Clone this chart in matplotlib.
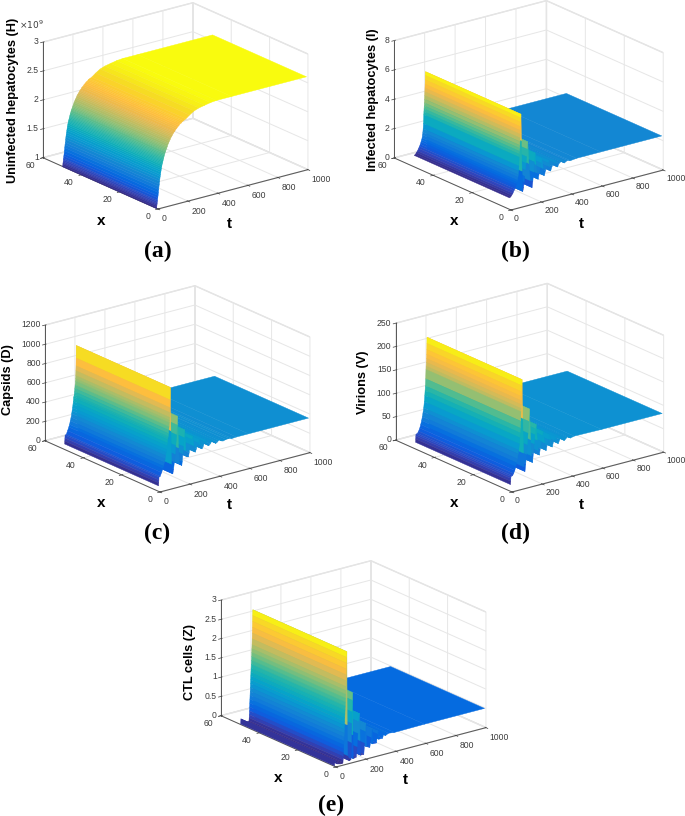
import numpy as np
import matplotlib
matplotlib.use("Agg")
from matplotlib import pyplot as plt
from matplotlib.colors import LinearSegmentedColormap
from mpl_toolkits.mplot3d import proj3d

W = 685
H = 816

plt.rcParams['font.family'] = ['Liberation Sans', 'DejaVu Sans']
plt.rcParams['grid.color'] = '#e6e6e6'
plt.rcParams['grid.linewidth'] = 0.7

x_ends = [1, 50]

t_H = [0, 1, 2, 3, 4, 5, 6, 8, 10, 12, 14, 16, 18, 20, 22, 24, 26, 28, 30, 32, 34, 36, 38, 40, 42, 44, 46, 48, 50, 52, 55, 58, 60, 63, 66, 69, 72, 76, 80, 85, 90, 95,
       100, 105, 110, 115, 120, 127, 135, 142, 150, 157, 165, 172, 180, 195, 220, 250, 282, 320, 360, 400, 500, 1000]
val_H = [1.0, 1.02, 1.05, 1.07, 1.09, 1.12, 1.14, 1.18, 1.22, 1.27, 1.32, 1.37, 1.41, 1.46, 1.5, 1.54, 1.57, 1.61, 1.64, 1.67, 1.7, 1.73, 1.75, 1.77, 1.79, 1.81, 1.83, 1.85, 1.87, 1.89, 1.91, 1.94, 1.95, 1.97, 1.99, 2.01, 2.03, 2.06, 2.08, 2.11, 2.13, 2.16,
         2.18, 2.2, 2.22, 2.24, 2.25, 2.28, 2.3, 2.32, 2.34, 2.36, 2.37, 2.39, 2.4, 2.42, 2.47, 2.52, 2.55, 2.57, 2.59, 2.6, 2.6, 2.6]

t_I = [0, 8, 15, 22, 29, 35, 40, 45, 49, 52, 55, 57, 59, 61, 63, 64, 65, 66, 67, 68, 69, 70, 71, 72, 73, 74, 75,
       78, 82, 87, 92, 96, 100, 104, 108, 112, 116, 120, 127, 136, 148, 153, 158, 163, 168, 174, 181, 188,
       194, 201, 208, 215, 221, 228, 236, 244, 252, 260, 265, 270, 280, 292, 305, 310, 315, 325, 337, 350,
       355, 360, 380, 400, 440, 600, 1000]
val_I = [0.8, 0.85, 0.95, 1.05, 1.2, 1.32, 1.45, 1.6, 1.72, 1.85, 2.05, 2.22, 2.45, 2.8, 3.4, 3.6, 3.8, 4.0, 4.2, 4.45, 4.7, 4.95, 5.2, 5.45, 5.75, 6.05, 6.3,
         4.5, 2.4, 1.0, 1.25, 1.6, 2.0, 2.4, 2.85, 3.3, 3.8, 4.3, 2.8, 1.6, 1.1, 1.5, 2.1, 2.8, 3.4, 2.6, 2.0, 1.56,
         1.9, 2.3, 2.6, 2.9, 2.2, 1.7, 2.0, 2.3, 2.5, 2.65, 2.2, 1.9, 2.2, 2.4, 2.5, 2.25, 2.05, 2.25, 2.35, 2.4,
         2.3, 2.2, 2.32, 2.25, 2.3, 2.3, 2.3]

t_D = [0, 1, 2, 3, 11, 20, 28, 33, 38, 43, 47, 50, 53, 56, 58, 60, 62, 64, 66, 68, 70, 72, 73, 74, 75, 76, 77, 78,
       82, 86, 95, 100, 105, 110, 115, 120, 124, 127, 133, 140, 155, 158, 162, 166, 170, 175, 182, 190, 200,
       204, 212, 220, 228, 235, 245, 252, 262, 272, 280, 290, 297, 307, 316, 325, 335, 345, 355, 362, 372, 382,
       392, 402, 410, 420, 430, 450, 470, 490, 520, 600, 1000]
val_D = [60, 90, 120, 150, 155, 190, 225, 250, 285, 320, 355, 385, 415, 450, 480, 515, 530, 545, 575, 610, 645, 685, 710, 740, 790, 840, 920, 1050,
         600, 250, 146, 190, 260, 340, 430, 540, 640, 730, 400, 230, 209, 250, 320, 400, 490, 570, 350, 285, 280,
         320, 400, 450, 480, 380, 310, 340, 400, 430, 370, 325, 345, 390, 405, 365, 340, 355, 380, 385, 360, 345,
         355, 370, 370, 355, 350, 358, 360, 352, 355, 355, 355]

t_V = [0, 1, 2, 3, 13, 20, 28, 34, 40, 45, 50, 54, 58, 61, 63, 65, 67, 69, 70, 71, 72, 73, 74, 75, 76,
       80, 86, 90, 95, 100, 105, 110, 115, 120, 125, 132, 138, 145, 150, 155, 160, 165, 170, 176, 183, 190,
       196, 203, 210, 215, 225, 235, 241, 248, 255, 265, 275, 285, 295, 305, 315, 325, 335, 345, 355, 375, 395, 420, 600, 1000]
val_V = [15, 22, 28, 32, 33, 37, 43, 50, 58, 66, 76, 84, 97, 110, 120, 130, 145, 165, 172, 180, 188, 197, 207, 220, 233,
         150, 75, 45, 35, 50, 70, 90, 115, 140, 166, 100, 65, 50, 68, 88, 108, 120, 129, 95, 72, 62,
         75, 90, 102, 110, 85, 68, 78, 90, 100, 88, 72, 85, 92, 84, 76, 84, 88, 83, 79, 85, 81, 83, 82, 82]

t_Z = [0, 2, 6, 12, 20, 40, 52, 56, 57, 58, 59, 60, 61, 62, 63, 64, 65, 66, 67, 68, 69, 70, 71, 72, 73, 74, 75, 76, 77, 78, 79, 80, 81, 82,
       84, 87, 100, 110, 112, 114, 116, 118, 120, 122, 125, 145, 150, 155, 160, 165, 168, 170, 173,
       195, 200, 204, 208, 210, 213, 235, 244, 250, 252, 255, 280, 286, 290, 292, 295, 320, 330, 335, 340, 360, 400, 600, 1000]
val_Z = [0.02, 0.15, 0.13, 0.08, 0.05, 0.03, 0.03, 0.05, 0.12, 0.2, 0.3, 0.4, 0.5, 0.6, 0.7, 0.8, 0.9, 1.0, 1.1, 1.2, 1.3, 1.4, 1.5, 1.6, 1.7, 1.8, 1.9, 2.0, 2.15, 2.3, 2.45, 2.6, 2.75, 2.9,
         1.0, 0.2, 0.05, 0.08, 0.5, 1.0, 1.3, 1.6, 1.8, 0.7, 0.08, 0.1, 0.35, 0.7, 1.0, 1.2, 1.2, 0.5, 0.12,
         0.12, 0.4, 0.7, 0.9, 0.9, 0.3, 0.26, 0.5, 0.72, 0.72, 0.33, 0.33, 0.55, 0.62, 0.62, 0.41, 0.41, 0.54, 0.56, 0.46, 0.5, 0.48, 0.49, 0.49]

z_ticks_H = [1, 1.5, 2, 2.5, 3]
z_ticks_I = [0, 2, 4, 6, 8]
z_ticks_D = [0, 200, 400, 600, 800, 1000, 1200]
z_ticks_V = [0, 50, 100, 150, 200, 250]
z_ticks_Z = [0, 0.5, 1, 1.5, 2, 2.5, 3]
x_ticks = [0, 20, 40, 60]
t_ticks = [0, 200, 400, 600, 800, 1000]

parula = LinearSegmentedColormap.from_list("parula", [
    (0.2081, 0.1663, 0.5292), (0.1959, 0.2645, 0.7279), (0.0591, 0.3598, 0.8683), (0.0165, 0.4266, 0.8786),
    (0.0723, 0.4887, 0.8467), (0.0749, 0.5375, 0.8263), (0.0343, 0.5966, 0.8199), (0.0231, 0.6418, 0.7913),
    (0.0590, 0.6838, 0.7254), (0.1453, 0.7098, 0.6646), (0.3022, 0.7376, 0.5712), (0.4871, 0.7491, 0.4840),
    (0.6473, 0.7456, 0.4188), (0.7858, 0.7356, 0.3633), (0.9139, 0.7258, 0.3063), (0.9938, 0.7455, 0.2403),
    (0.9880, 0.8066, 0.1794), (0.9626, 0.8705, 0.1309), (0.9763, 0.9831, 0.0538)], N=256)

fig = plt.figure(figsize=(W / 100, H / 100), dpi=100)


def project(ax, t, x, z):
    xs, ys, _ = proj3d.proj_transform(t, x, z, ax.get_proj())
    return ax.transData.transform((xs, ys))


def text_px(px, py, s, **kw):
    fig.text(px / W, 1 - py / H, s, ha='center', va='center', **kw)


def panel(t, vals, zlim, zticks, front, span, zlabel, zlabel_px, x_px, t_px, tag, tag_px, ticklabels=None, t_pad=-4):
    ax = fig.add_axes([0.1, 0.1, 330 / W, 330 / H], projection='3d', proj_type='ortho', facecolor='none')
    ax.computed_zorder = False
    ax.view_init(elev=20, azim=-127.5)

    # one strip per t step, far end first: depth sorting goes wrong on the steep walls
    lo, hi = min(vals), max(vals)
    for i in range(len(t) - 2, -1, -1):
        T, X = np.meshgrid(t[i:i + 2], x_ends)
        Z = np.vstack([vals[i:i + 2], vals[i:i + 2]])
        c = parula((Z.mean() - lo) / (hi - lo))
        ax.plot_surface(T, X, Z, color=c, edgecolor=c, linewidth=0.3, shade=False, antialiased=True)

    ax.set_xlim(0, 1000, view_margin=0)
    ax.set_ylim(0, 60, view_margin=0)
    ax.set_zlim(zlim[0], zlim[1], view_margin=0)
    ax.set_xticks(t_ticks)
    ax.set_yticks(x_ticks)
    ax.set_zticks(zticks)
    if ticklabels:
        ax.set_zticklabels(ticklabels)
    ax.tick_params(labelsize=6.2, colors='#3c3c3c', pad=t_pad)
    ax.tick_params(axis='y', pad=-2)
    ax.tick_params(axis='z', pad=-6)
    plt.setp(ax.get_xticklabels(), ha='left')
    plt.setp(ax.get_yticklabels(), ha='right', va='center')
    plt.setp(ax.get_zticklabels(), ha='right', va='center')
    for a in (ax.xaxis, ax.yaxis, ax.zaxis):
        a.set_pane_color((1, 1, 1, 1))
        a.pane.set_edgecolor('#e0e0e0')
        a.line.set_color('#555555')
        a.line.set_linewidth(0.7)
        a._axinfo['tick']['linewidth'][True] = 0.5
        a._axinfo['tick']['color'] = '#555555'

    ax.set_box_aspect((1, 1, 0.651), zoom=1)
    fig.canvas.draw()
    left = project(ax, 0, 60, zlim[0])
    right = project(ax, 1000, 0, zlim[0])
    ax.set_box_aspect((1, 1, 0.651), zoom=span / (right[0] - left[0]))
    fig.canvas.draw()
    now = project(ax, 0, 0, zlim[0])
    pos = ax.get_position()
    ax.set_position([pos.x0 + (front[0] - now[0]) / W, pos.y0 + (H - front[1] - now[1]) / H, pos.width, pos.height])

    text_px(zlabel_px[0], zlabel_px[1], zlabel, rotation=90, fontsize=9.2, fontweight='bold')
    text_px(x_px[0], x_px[1], 'x', fontsize=11, fontweight='bold')
    text_px(t_px[0], t_px[1], 't', fontsize=11, fontweight='bold')
    text_px(tag_px[0], tag_px[1], tag, fontsize=17, fontweight='bold', family='Liberation Serif')
    return ax


panel(t_H, val_H, (1, 3), z_ticks_H, (158, 209), 265, 'Uninfected hepatocytes (H)', (13, 100),
      (101, 221), (229, 224), '(a)', (158, 251), ['1', '1.5', '2', '2.5', '3'])
panel(t_I, val_I, (0, 8), z_ticks_I, (511, 210), 269, 'Infected hepatocytes (I)', (373, 100),
      (454, 221), (581, 224), '(b)', (515, 251), t_pad=-5)
panel(t_D, val_D, (0, 1200), z_ticks_D, (160, 492), 265, 'Capsids (D)', (8, 380),
      (101, 503), (229, 505), '(c)', (157, 533))
panel(t_V, val_V, (0, 250), z_ticks_V, (512, 492), 268, 'Virions (V)', (363, 382),
      (454, 503), (581, 505), '(d)', (516, 533), t_pad=-5)
panel(t_Z, val_Z, (0, 3), z_ticks_Z, (336, 767), 265, 'CTL cells (Z)', (190, 662),
      (278, 778), (405, 780), '(e)', (331, 805), ['0', '0.5', '1', '1.5', '2', '2.5', '3'])

text_px(31, 25, r'$\times10^{9}$', fontsize=6.5, color='#3c3c3c')

fig.savefig('out.png', dpi=100)
